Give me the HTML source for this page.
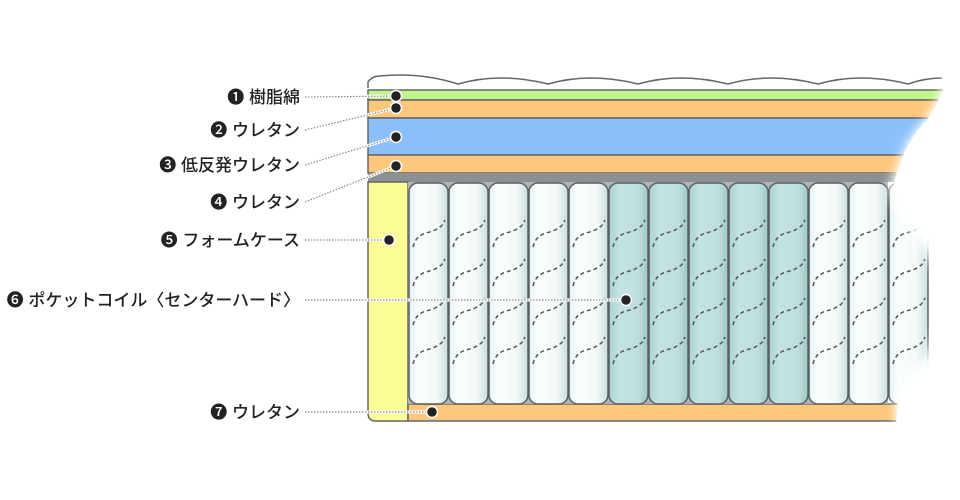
<!DOCTYPE html>
<html><head><meta charset="utf-8"><style>
html,body{margin:0;padding:0;background:#fff;width:960px;height:500px;overflow:hidden}
svg{display:block}
text{font-family:"Liberation Sans","Noto Sans CJK JP",sans-serif;font-size:17px;fill:#222;font-weight:500}
</style></head><body>
<svg id="s" width="960" height="500" viewBox="0 0 960 500" xmlns="http://www.w3.org/2000/svg">
<defs>
<linearGradient id="gw" x1="0" x2="1"><stop offset="0" stop-color="#e6f2f2"/><stop offset="0.25" stop-color="#fbfdfd"/><stop offset="0.7" stop-color="#f4f9f9"/><stop offset="1" stop-color="#c8dede"/></linearGradient>
<linearGradient id="gt" x1="0" x2="1"><stop offset="0" stop-color="#a9d2d2"/><stop offset="0.25" stop-color="#c3e2e1"/><stop offset="0.75" stop-color="#bfdfde"/><stop offset="1" stop-color="#9cc8c8"/></linearGradient>
<filter id="bl"><feGaussianBlur stdDeviation="5"/></filter>
</defs>
<g id="mat">
<path d="M368,88 L368,82 Q372,76 380,76 Q420,72 458,84 Q500,72 548,84 Q590,72 638,84 Q680,72 728,84 Q770,72 818,84 Q860,72 908,84 Q925,78 942,78" fill="none" stroke="#666" stroke-width="1.5"/>
<rect x="368" y="90" width="580" height="10" fill="#bff58a" stroke="#666" stroke-width="1.5"/>
<rect x="368" y="100" width="580" height="18" fill="#fdc77c" stroke="#666" stroke-width="1.5"/>
<rect x="368" y="118" width="580" height="37" fill="#8cc0fb" stroke="#666" stroke-width="1.5"/>
<rect x="368" y="155" width="580" height="18" fill="#fdc77c" stroke="#666" stroke-width="1.5"/>
<rect x="368" y="173" width="580" height="9" fill="#8b9192"/>
<path d="M368,182 L408,182 L408,421 L376,421 Q368,421 368,413 Z" fill="#fdfd98" stroke="#666" stroke-width="1.5"/>
<rect x="408" y="404" width="540" height="17" fill="#fdc77c" stroke="#666" stroke-width="1.5"/>
<rect x="408" y="182" width="480" height="222" fill="#b0b4b4"/>
<g id="coils"></g>
</g>
<path d="M948,70 L942,88 Q935,105 925,120 Q905,140 898,165 Q890,180 890,195 Q900,215 918,240 Q935,265 940,300 Q935,345 915,370 Q898,390 895,405 L895,425 L960,425 L960,70 Z" fill="#fff" filter="url(#bl)"/>
<path d="M950,70 L944,88 Q937,105 927,120 Q907,140 900,165 Q893,180 894,190 L960,190 L960,70 Z" fill="#fff"/>
<path d="M898,398 L896,425 L960,425 L960,398 Z" fill="#fff"/>
<g id="lab"></g>
</svg>
<script>
var ns="http://www.w3.org/2000/svg",c=document.getElementById('coils');
function el(t,a,p){var e=document.createElementNS(ns,t);for(var k in a)e.setAttribute(k,a[k]);p.appendChild(e);return e}
for(var i=0;i<13;i++){var x=409+i*40,teal=(i>=5&&i<=9);
el('rect',{x:x,y:183,width:39,height:221,rx:9,fill:teal?'url(#gt)':'url(#gw)',stroke:'#5a5e5e','stroke-width':1.5},c);
for(var j=0;j<4;j++){var y=220+j*39;
el('path',{d:'M'+(x+4)+','+(y+27)+' C'+(x+8)+','+(y+12)+' '+(x+18)+','+(y+14)+' '+(x+26)+','+(y+10)+' S'+(x+34)+','+(y+4)+' '+(x+36)+','+y,fill:'none',stroke:'#555','stroke-width':1.5,'stroke-dasharray':'4 3'},c);}}
var L=document.getElementById('lab');
var d=[["❶ 樹脂綿",97,396,96],["❷ ウレタン",130,396,108],["❸ 低反発ウレタン",165,396,137],["❹ ウレタン",202,396,166],["❺ フォームケース",240,389,240],["❻ ポケットコイル〈センターハード〉",300,626,300],["❼ ウレタン",412,432,412]];
d.forEach(function(r){
el('line',{x1:305,y1:r[1],x2:r[2],y2:r[3],stroke:'#fff','stroke-width':3},L);
el('line',{x1:305,y1:r[1],x2:r[2],y2:r[3],stroke:'#888','stroke-width':1.2,'stroke-dasharray':'1.5 1.5'},L);
el('circle',{cx:r[2],cy:r[3],r:5.5,fill:'#222',stroke:'#fff','stroke-width':1.5},L);
var t=el('text',{x:300,y:r[1]+6,'text-anchor':'end'},L);t.textContent=r[0];});
</script>
</body></html>
